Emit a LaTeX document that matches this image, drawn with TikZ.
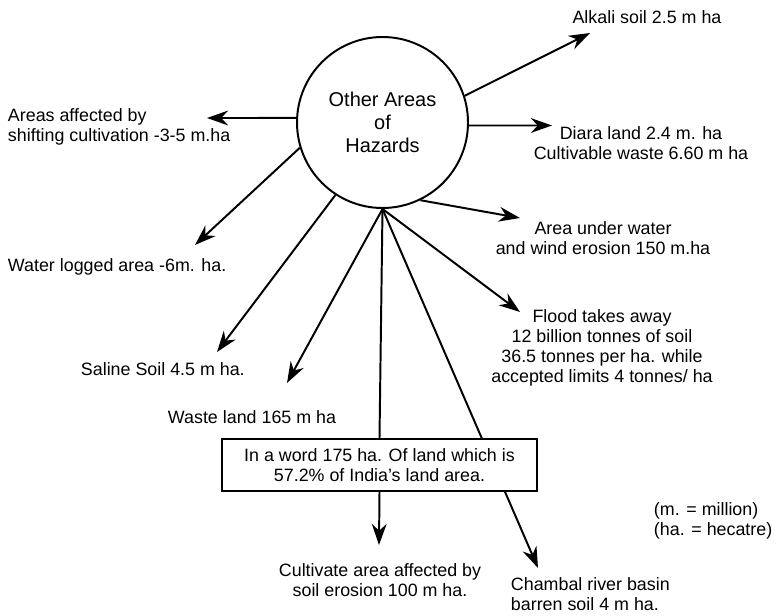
\documentclass[tikz,border=0pt]{standalone}
\usepackage{fontspec}
\setmainfont{Liberation Sans}
\usetikzlibrary{arrows.meta}

\begin{document}
\begin{tikzpicture}[>={Stealth[length=15pt,width=10.5pt]}, line width=1.4pt,
    lbl/.style={inner sep=0pt, font=\fontsize{12.7}{14.2}\selectfont},
    hub/.style={circle, draw, minimum size=4.275cm, align=center,
        font=\fontsize{14.2}{16.4}\selectfont}]
    \useasboundingbox (0,0) rectangle (19.425,15.375);

    \node[hub] (hz) at (9.5625,12.3125) {Other Areas\\of\\Hazards};

    \node[lbl] (alkali) at (16.175,14.95) {Alkali soil 2.5 m ha};
    \node[lbl, anchor=west, align=left] (shift) at (0.175,12.2) {Areas affected by\\shifting cultivation -3-5 m.ha};
    \node[lbl, align=center] (diara) at (16.025,11.8) {Diara land 2.4 m. ha\\Cultivable waste 6.60 m ha};
    \node[lbl, align=center] (erosion) at (15.075,9.425) {Area under water\\and wind erosion 150 m.ha};
    \node[lbl, anchor=west] (waterlog) at (0.175,8.7) {Water logged area -6m. ha.};
    \node[lbl, anchor=west] (saline) at (2.0,6.15) {Saline Soil 4.5 m ha.};
    \node[lbl, anchor=west] (waste) at (4.175,4.95) {Waste land 165 m ha};
    \node[lbl, align=center] (flood) at (15.05,6.675) {Flood takes away\\12 billion tonnes of soil\\36.5 tonnes per ha. while\\accepted limits 4 tonnes/ ha};
    \node[lbl, align=center] (cultivate) at (9.5,0.875) {Cultivate area affected by\\soil erosion 100 m ha.};
    \node[lbl, anchor=west, align=left] (chambal) at (12.75,0.52) {Chambal river basin\\barren soil 4 m ha.};
    \node[lbl, anchor=west, align=left] (units) at (16.325,2.35) {(m. = million)\\(ha. = hecatre)};

    % arrow tips
    \coordinate (alkali tip) at (14.75,14.55);
    \coordinate (shift tip) at (5.175,12.425);
    \coordinate (diara tip) at (13.8,12.2375);
    \coordinate (erosion tip) at (13.0,9.925);
    \coordinate (waterlog tip) at (4.875,9.25);
    \coordinate (saline tip) at (5.425,6.575);
    \coordinate (waste tip) at (7.175,5.8);
    \coordinate (flood tip) at (13.0,7.575);
    \coordinate (chambal tip) at (13.45,1.175);
    \coordinate (cultivate tip) at (9.475,1.75);

    \draw[->] (hz.18) -- (alkali tip);
    \draw[->] (hz.177) -- (shift tip);
    \draw[->] (hz.-2) -- (diara tip);
    \draw[->] (hz.-64) -- (erosion tip);
    \draw[->] (hz.197) -- (waterlog tip);
    \draw[->] (hz.237) -- (saline tip);
    \draw[->] (hz.south) -- (waste tip);
    \draw[->] (hz.south) -- (flood tip);
    \draw[->] (hz.south) -- (chambal tip);

    \node[lbl, draw, fill=white, align=center, minimum width=7.875cm, minimum height=1.3cm] (summary) at (9.4875,3.75)
        {In a word 175 ha. Of land which is\\57.2\% of India's land area.};

    \draw (hz.south) -- (summary.north);
    \draw[->] (summary.south) -- (cultivate tip);
\end{tikzpicture}
\end{document}
